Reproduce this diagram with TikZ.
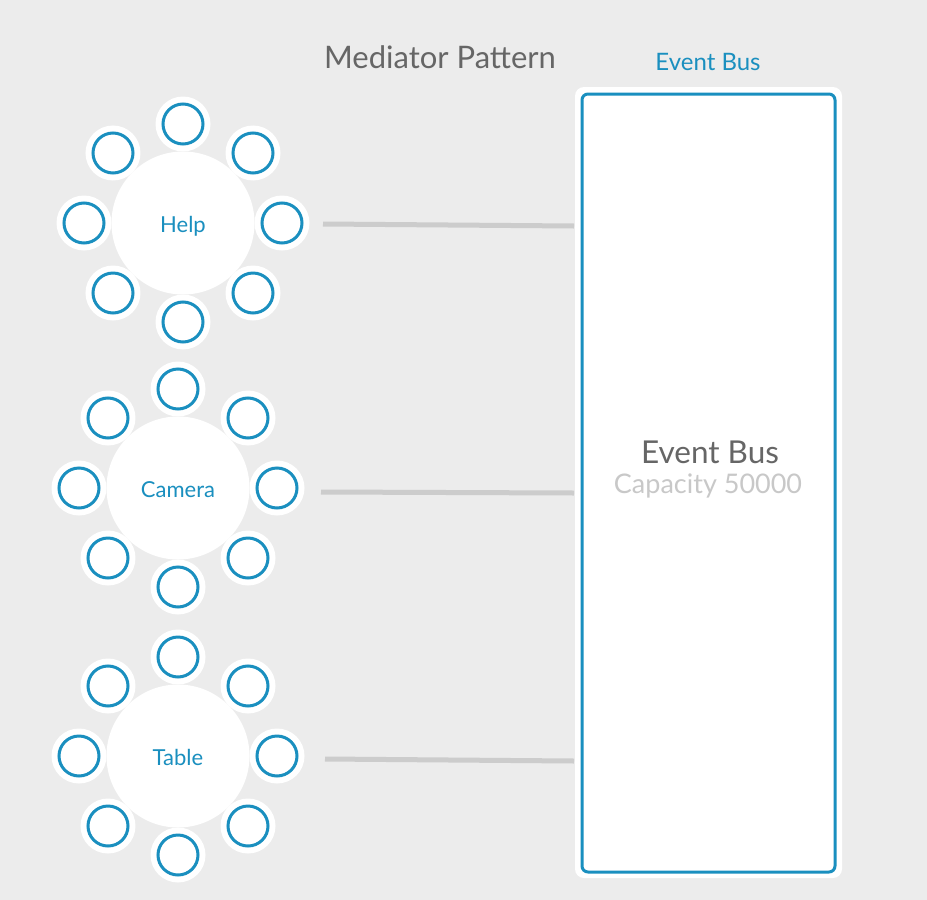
\documentclass[tikz,border=0pt]{standalone}
\usepackage{fontspec}
\setmainfont{Lato}
\usetikzlibrary{calc}
\definecolor{bg}{HTML}{ECECEC}
\definecolor{blu}{HTML}{1A8FBF}
\definecolor{ttl}{HTML}{666666}
\definecolor{lgt}{HTML}{C8C8C8}
\definecolor{cn}{HTML}{CCCCCC}
\begin{document}
\begin{tikzpicture}[x=1pt,y=-1pt,
  hub/.style={circle,fill=white,minimum size=143pt,inner sep=0pt},
  hublbl/.style={anchor=base,inner sep=0pt,text=blu,font=\fontsize{22}{24}\selectfont},
  seat/.style={circle,fill=white,draw=blu,line width=3pt,minimum size=40pt,inner sep=0pt},
  halo/.style={circle,fill=white,minimum size=55pt,inner sep=0pt},
  conn/.style={draw=cn,line width=5pt}]
\useasboundingbox[fill=bg] (0,0) rectangle (927,900);
\node[text=ttl,font=\fontsize{31}{33}\selectfont] (title) at (440,57) {Mediator Pattern};
\node[text=blu,font=\fontsize{24}{26}\selectfont] (buslbl) at (708,62) {Event Bus};
% bus
\node[fill=white,rounded corners=9pt,minimum width=267pt,minimum height=791pt,inner sep=0pt] (bushalo) at (708.5,482.5) {};
\node[draw=blu,fill=white,line width=3pt,rounded corners=6pt,minimum width=253pt,minimum height=778pt,inner sep=0pt] (bus) at (708.5,483) {};
\node[text=ttl,font=\fontsize{31.5}{34}\selectfont] (bt) at (710,452) {Event Bus};
\node[text=lgt,font=\fontsize{27}{29}\selectfont] (bc) at (708,486) {Capacity 50000};
% clusters
\foreach \nm/\cx/\cy/\lbl in {help/183/223/Help,camera/178/488/Camera,table/178/756/Table}{
  \foreach \a in {0,45,...,315}{
    \node[halo] (\nm h\a) at ($(\cx,\cy)+(\a:99)$) {};
  }
  \node[hub] (\nm) at (\cx,\cy) {};
  \node[hublbl] (\nm l) at ($(\cx,\cy)+(0,9.5)$) {\lbl};
  \foreach \a in {0,45,...,315}{
    \node[seat] (\nm s\a) at ($(\cx,\cy)+(\a:99)$) {};
  }
}
\coordinate (e1) at (574,226);
\coordinate (e2) at (574,493);
\coordinate (e3) at (574,761);
\coordinate (s1) at (323,224);
\coordinate (s2) at (321,492);
\coordinate (s3) at (325,759);
\draw[conn] (s1) -- (e1);
\draw[conn] (s2) -- (e2);
\draw[conn] (s3) -- (e3);
\end{tikzpicture}
\end{document}
